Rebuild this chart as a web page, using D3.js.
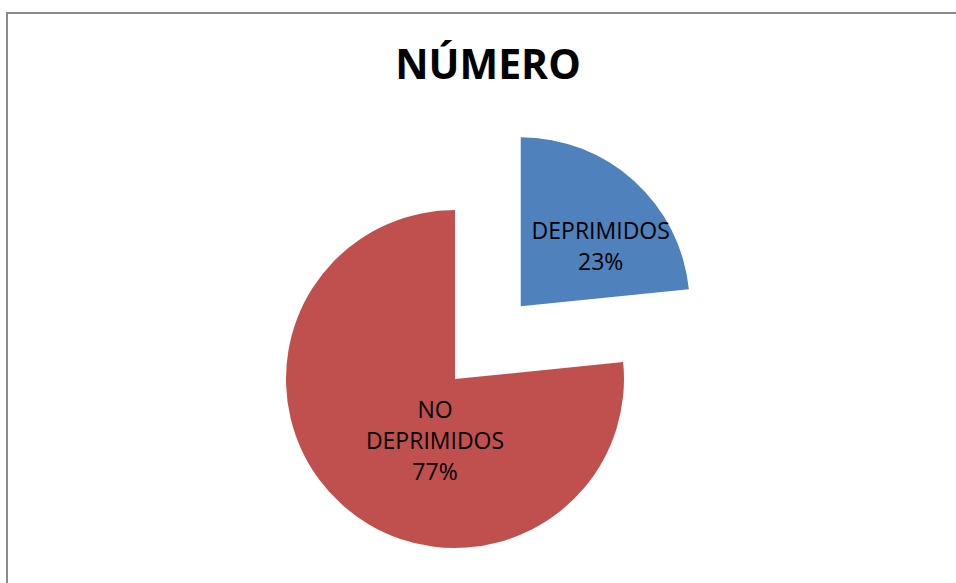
<!DOCTYPE html>
<html>
<head>
    <meta charset="utf-8">
    <title>NÚMERO</title>
    <style>
        body { margin: 0; background: #fff; }
        svg { display: block; }
    </style>
</head>
<body>
    <div id="pie"></div>

    <script src="https://d3js.org/d3.v7.min.js"></script>
    <script>
var categories = ["DEPRIMIDOS", "NO DEPRIMIDOS"];
var values = [23.4, 76.6];
var colors = ["#4F81BD", "#C0504D"];
var explode = [98, 0];
// label lines as Excel wraps them
var labelLines = [["DEPRIMIDOS"], ["NO", "DEPRIMIDOS"]];
var labelNudge = [[12, 15], [48, -13]];

var width = 956;
var height = 583;
var radius = 169;
var cx = 455, cy = 379;

var svg = d3.select('#pie')
    .append('svg')
    .attr('width', width)
    .attr('height', height);

// chart area border
svg.append('rect')
    .attr('x', 7)
    .attr('y', 13)
    .attr('width', width + 20)
    .attr('height', height + 20)
    .attr('fill', 'none')
    .attr('stroke', '#8a8a8a')
    .attr('stroke-width', 2);

svg.append('text')
    .attr('x', 488)
    .attr('y', 79)
    .attr('text-anchor', 'middle')
    .style('font-family', '"Open Sans", sans-serif')
    .style('font-weight', 'bold')
    .style('font-size', '41px')
    .text('NÚMERO');

var total = d3.sum(values);
var data = categories.map(function(c, i) {
    return { name: c, value: values[i], i: i };
});

var pie = d3.pie()
    .sort(null)
    .value(function(d) { return d.value; });

var arc = d3.arc()
    .innerRadius(0)
    .outerRadius(radius);

var labelArc = d3.arc()
    .innerRadius(radius * 0.6)
    .outerRadius(radius * 0.6);

var g = svg.append('g')
    .attr('transform', 'translate(' + cx + ',' + cy + ')');

var slices = g.selectAll('g.slice')
    .data(pie(data))
    .enter()
    .append('g')
    .attr('class', 'slice')
    .attr('transform', function(d) {
        var mid = (d.startAngle + d.endAngle) / 2;
        var e = explode[d.data.i];
        return 'translate(' + (Math.sin(mid) * e) + ',' + (-Math.cos(mid) * e) + ')';
    });

slices.append('path')
    .attr('d', arc)
    .attr('fill', function(d) { return colors[d.data.i]; });

var pct = d3.format('.0%');
var lineH = 31;

slices.each(function(d) {
    var c = labelArc.centroid(d);
    var n = labelNudge[d.data.i];
    var lines = labelLines[d.data.i].concat([pct(d.data.value / total)]);
    var x = c[0] + n[0];
    var y0 = c[1] + n[1] - (lines.length - 1) * lineH / 2 + 8;
    var t = d3.select(this).append('text')
        .attr('text-anchor', 'middle')
        .style('font-family', '"Open Sans", sans-serif')
        .style('font-size', '23px')
        .attr('fill', '#000');
    lines.forEach(function(l, k) {
        t.append('tspan')
            .attr('x', x)
            .attr('y', y0 + k * lineH)
            .text(l);
    });
});
    </script>
</body>
</html>
